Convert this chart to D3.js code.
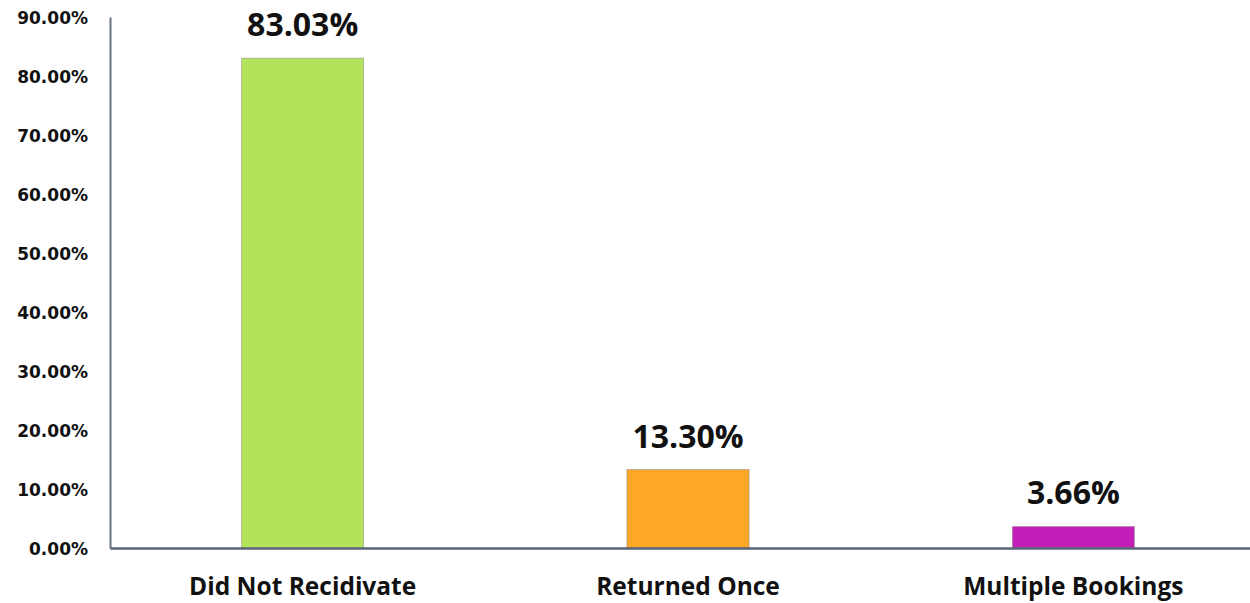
<!DOCTYPE html>
<html><head><meta charset="utf-8">
<script src="https://cdn.jsdelivr.net/npm/d3@7"></script>
<style>body{margin:0;background:#fff;}svg{display:block;}</style>
</head><body>
<svg id="c" width="1250" height="603"></svg>
<script>
const categories = ["Did Not Recidivate", "Returned Once", "Multiple Bookings"];
const values = [83.03, 13.30, 3.66];
const valueLabels = ["83.03%", "13.30%", "3.66%"];
const colors = ["#b3e35a", "#fca726", "#c31fb8"];
const yTicks = [0, 10, 20, 30, 40, 50, 60, 70, 80, 90];

const svg = d3.select("#c");
const x0 = 110, x1 = 1266, yTop = 17, yBase = 548;
const x = d3.scaleBand().domain(categories).range([x0, x1]).paddingInner(0.683).paddingOuter(0.3415);
const y = d3.scaleLinear().domain([0, 90]).range([yBase, yTop]);

// bars
svg.selectAll("rect.bar").data(values).enter().append("rect")
  .attr("class","bar")
  .attr("x", (d,i)=>x(categories[i]))
  .attr("width", x.bandwidth())
  .attr("y", d=>y(d))
  .attr("height", d=>yBase - y(d))
  .attr("fill", (d,i)=>colors[i])
  .attr("stroke", "#9a9a9a").attr("stroke-width", 0.6);

// y axis
const yAxis = d3.axisLeft(y).tickValues(yTicks).tickSize(0).tickPadding(22)
  .tickFormat(d=>d3.format(".2f")(d)+"%");
const gy = svg.append("g").attr("transform",`translate(${x0},0)`).call(yAxis);
gy.select(".domain").attr("stroke","#6b7385").attr("stroke-width",2);
gy.selectAll("text").attr("font-family","'DejaVu Sans', sans-serif").attr("font-weight","bold")
  .attr("font-size","17px").attr("fill","#111").attr("dy","0.36em");

// x axis
const xAxis = d3.axisBottom(x).tickSize(0).tickPadding(30);
const gx = svg.append("g").attr("transform",`translate(0,${yBase})`).call(xAxis);
gx.select(".domain").attr("stroke","#5a6478").attr("stroke-width",2.5);
gx.selectAll("text").attr("font-family","'Open Sans', sans-serif").attr("font-weight","bold")
  .attr("font-size","24.5px").attr("fill","#111");

// value labels
svg.selectAll("text.val").data(values).enter().append("text")
  .attr("class","val")
  .attr("x",(d,i)=>x(categories[i])+x.bandwidth()/2)
  .attr("y",d=>y(d)-22)
  .attr("text-anchor","middle")
  .attr("font-family","'Open Sans', sans-serif").attr("font-weight","bold")
  .attr("font-size","32px").attr("fill","#111")
  .text((d,i)=>valueLabels[i]);
</script>
</body></html>
